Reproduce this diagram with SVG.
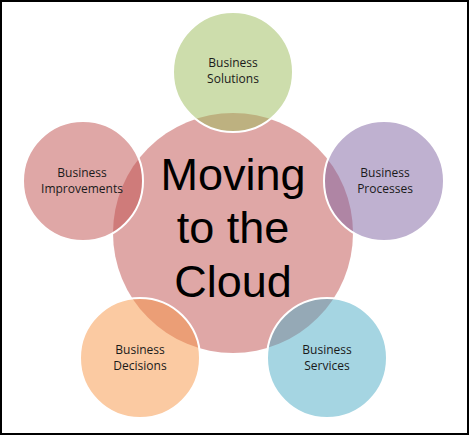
<svg xmlns="http://www.w3.org/2000/svg" width="469" height="435" viewBox="0 0 469 435">
<style>
.c{stroke:none;opacity:0.5}
.s{stroke:#fff;stroke-width:2;fill-opacity:0.5}
.t{font-family:"Open Sans","Liberation Sans",sans-serif;font-size:12px;fill:#1a1a1a;text-anchor:middle}
.b{font-family:"Liberation Sans",Arial,sans-serif;font-size:45px;fill:#000;text-anchor:middle}
</style>
<rect x="0" y="0" width="469" height="435" fill="#fff"/>
<rect x="1" y="1" width="467" height="433" fill="none" stroke="#000" stroke-width="2"/>
<g id="center">
<circle cx="233" cy="233" r="120" fill="#c0504d" class="c"/>
<text class="b" x="233" y="190">Moving</text>
<text class="b" x="233" y="243">to the</text>
<text class="b" x="233" y="297">Cloud</text>
</g>
<g id="connectors"/>
<g id="solutions">
<circle cx="233" cy="72" r="60" fill="#9bbb59" class="s"/>
<text class="t" x="233" y="67">Business</text>
<text class="t" x="233" y="83">Solutions</text>
</g>
<g id="processes">
<circle cx="384" cy="181" r="60" fill="#8064a2" class="s"/>
<text class="t" x="385" y="177">Business</text>
<text class="t" x="385" y="193">Processes</text>
</g>
<g id="services">
<circle cx="327" cy="358" r="60" fill="#4bacc6" class="s"/>
<text class="t" x="327" y="354">Business</text>
<text class="t" x="327" y="370">Services</text>
</g>
<g id="decisions">
<circle cx="140" cy="358" r="60" fill="#f79646" class="s"/>
<text class="t" x="140" y="354">Business</text>
<text class="t" x="140" y="370">Decisions</text>
</g>
<g id="improvements">
<circle cx="83" cy="181" r="60" fill="#c0504d" class="s"/>
<text class="t" x="82" y="177">Business</text>
<text class="t" x="82" y="193">Improvements</text>
</g>
</svg>
